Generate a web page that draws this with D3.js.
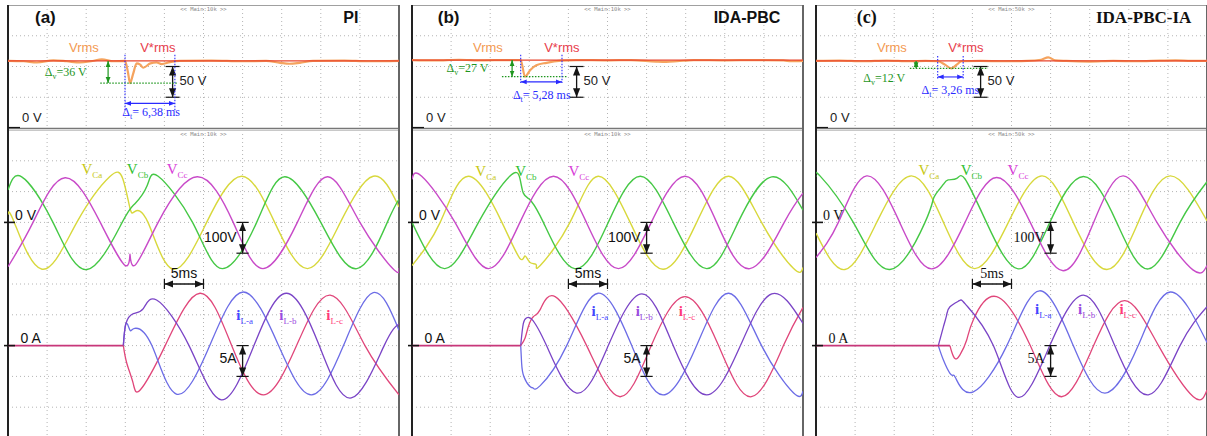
<!DOCTYPE html>
<html><head><meta charset="utf-8">
<script src="https://cdn.jsdelivr.net/npm/d3@7/dist/d3.min.js"></script>
<style>html,body{margin:0;padding:0;background:#fff}svg{display:block}</style>
</head><body>
<svg id="chart" width="1207" height="436"></svg>
<script>
// ================= DATA read from the three oscilloscope captures =================
// time in ms (10 divisions x 5 ms), voltages in V, currents in A
const panelTags   = ["(a)", "(b)", "(c)"];
const controllers = ["PI", "IDA-PBC", "IDA-PBC-IA"];
const scopeTags   = ["<< Main:10k >>", "<< Main:10k >>", "<< Main:50k >>"];
const vrmsRef     = [109, 110.5, 109];      // V*rms reference (V)
const deltaV      = [36, 27, 12];           // sag depth (V)
const deltaT      = [6.38, 5.28, 3.26];     // recovery time (ms)
const sagStart    = [14.96, 13.9, 15.56];   // start of the Δt window (ms)
const zeroLineEnd = [14.75, 13.9, 17.13];   // end of the flat 0 A trace (ms)

// RMS voltage traces [t ms, V]
const vrmsA = [[0,109],[2,108.5],[3.7,106.5],[5.8,110],[7.5,108.5],[9.2,106.5],[10.8,109],[12,111.5],[13.5,108.5],[14.96,109],[15.35,90],[15.6,73],[16,88],[16.45,105],[16.9,103],[17.3,98],[18.2,105],[19,106.5],[19.65,104],[20.7,107],[22,109],[26,109.5],[30,108.5],[33,109],[34.8,106],[36,104.5],[37.3,106],[39,109],[43,109.5],[46,108.5],[50,109]];
const vrmsB = [[0,110.5],[3,110],[6,111],[9,110],[12,110.5],[13.9,110.5],[14.45,83.5],[15.1,94],[15.9,102],[17.2,106],[19.1,109.5],[21,110.5],[25,110],[28,110.5],[31.2,108],[32.5,107.5],[33.9,108.5],[36,110.5],[40,110],[44,110.5],[47.5,110],[48.5,108.5],[50,109]];
const vrmsC = [[0,109],[3,109.5],[6,108.5],[9,109.5],[12,108.5],[14,109],[15.6,108.5],[16.5,103],[17.3,97],[18,103],[18.6,108.5],[21,109],[24,108.5],[27,109],[28.8,111],[29.7,115],[30.6,110],[32,109],[35,108],[38,109],[41,108.5],[44,109.5],[46,110],[48,109],[50,109]];

// capacitor voltages [t ms, V]
const vCaA = [[0,25],[0.8,0],[4.35,-152],[8.8,0],[13,148],[14.7,140],[15.6,46],[16.2,35],[17.9,0],[21.1,-152],[25.4,0],[29.9,150],[34.1,0],[38.3,-150],[42.5,0],[46.7,150],[50,50]];
const vCbA = [[0,105],[1.75,148],[5.75,0],[10.1,-153],[14.6,0],[16.2,60],[17.8,120],[19.2,150],[23.6,0],[27.4,-150],[31.8,0],[35.4,148],[40,0],[44.6,-150],[48.5,0],[50,75]];
const vCcA = [[0,-144],[3.2,0],[7.3,145],[11.8,0],[15,-140],[15.6,-103],[16.2,-140],[19.2,0],[24.2,148],[28.8,0],[32.6,-150],[37,0],[40.9,148],[45,0],[49.2,-150],[50,-148]];
const vCaB = [[0,-140],[3.6,0],[7.2,150],[11.5,0],[13.8,-117],[14.45,-109],[15.1,-130],[15.9,-138],[16.4,-140],[20.2,0],[23.8,150],[27.9,0],[32.1,-152],[36.4,0],[40.5,150],[44.7,0],[48.8,-150],[50,-146]];
const vCbB = [[0,0],[4.2,-150],[8.5,0],[12.5,150],[13.8,143],[14.24,95],[14.88,78],[15.3,67],[16.8,0],[20.8,-150],[25.1,0],[29.2,150],[33.4,0],[37.7,-150],[41.7,0],[46,148],[50,40]];
const vCcB = [[0,140],[1.24,150],[5.5,0],[9.76,-150],[13.8,0],[18.1,150],[22.3,0],[26.4,-150],[30.6,0],[34.9,150],[38.96,0],[43.2,-150],[47.6,0],[50,95]];
const vCaC = [[0,-35],[3.7,-153],[7.76,0],[12.2,151],[16.3,0],[20.3,-150],[24.6,0],[28.9,151],[32.9,0],[37.2,-153],[41.2,0],[45.3,151],[50,5]];
const vCbC = [[0,148],[0.51,151],[4.77,0],[9.46,-153],[13.94,0],[15,76],[15.65,103],[16.3,124],[16.9,138],[18,143],[19.06,141],[21.8,0],[25.9,-151],[29.9,0],[34.2,149],[38.45,0],[42.5,-151],[46.55,0],[50,132]];
const vCcC = [[0,-114],[2.86,0],[6.48,151],[10.7,0],[14.8,-151],[19.06,0],[23.1,146],[27.4,0],[31.6,-157],[35.5,0],[39.3,151],[43.6,0],[48.2,-154],[50,-140]];

// load currents [t ms, A]
const iLaA = [[14.75,0],[15.09,3.6],[15.6,2.5],[16.2,2.8],[18.4,0],[21.6,-7.9],[25.8,0],[30.1,8.7],[34.6,0],[38.8,-8],[42.9,0],[46.7,8.6],[50,2.5]];
const iLbA = [[14.75,0],[15.09,3.6],[16.03,5.2],[17.3,6],[19,7.4],[23.15,0],[27.3,-8.8],[31.45,0],[35.6,8.5],[39.8,0],[43.9,-8.5],[48.1,0],[50,3.5]];
const iLcA = [[14.75,0],[15.2,-2.9],[16,-6.1],[16.9,-7.2],[20.1,0],[24.55,8.5],[28.6,0],[32.65,-8],[36.9,0],[41.2,8.2],[45.65,0],[50,-8]];
const iLaB = [[13.9,0],[14.02,-2.9],[14.3,-5],[15.09,-6.65],[15.51,-6.9],[16.4,-6.5],[19.78,0],[23.8,8.5],[28.1,0],[32.1,-8],[36.4,0],[40.5,8.5],[44.7,0],[48.8,-7.7],[50,-7.4]];
const iLbB = [[13.9,0],[14.24,3.6],[14.66,4.5],[15.3,4.3],[17.2,0],[21.05,-7.7],[25.1,0],[29.4,8.4],[33.4,0],[37.7,-8],[42,0],[46,8.4],[50,3.6]];
const iLcB = [[13.9,0],[14.45,1.2],[14.88,3.1],[15.51,4.7],[16.37,5.8],[18.3,7.95],[22.33,0],[26.6,-8.3],[30.6,0],[34.9,7.95],[39.2,0],[43.4,-8.3],[47.5,0],[50,6.2]];
const iLaC = [[15.64,0],[16.28,-2.3],[17.13,-4.5],[17.56,-4.8],[17.99,-5.6],[20.12,-7.5],[24.4,0],[28.6,8.9],[32.9,0],[36.95,-7.7],[41.2,0],[45.3,8.7],[50,0.5]];
const iLbC = [[15.64,0],[16.28,3],[16.71,5],[17.13,6.3],[18.33,7.3],[19.27,6.5],[22.68,0],[25.9,-8.4],[29.9,0],[34.2,8.2],[38.2,0],[42.5,-8],[46.55,0],[50,6.3]];
const iLcC = [[17.13,0],[17.35,-1],[17.77,-2.1],[18.41,-1.5],[19.27,0.9],[20.12,4.2],[23.1,7.95],[27.4,0],[31.4,-8.3],[35.5,0],[39.5,7.3],[43.8,0],[48.25,-8.3],[50,-7.2]];

// scale-bar values
const scaleTop = 50;   // V per division (RMS screen)
const scaleV   = 100;  // V per division
const scaleI   = 5;    // A per division
const scaleT   = 5;    // ms per division

// ================= LAYOUT (positions in data units, styles) =================
const L = {panelX:[8,412,816], w:391, top:5, mid:128, botTop:130, bot:438};
const tagT = [3.45, 3.3, 5.2], ctrlT = [44.8, 47.1, 48.0];
const dvLabel = [[4.7,84.5],[4.4,91],[6.05,75]];
const dvLine = [[11.8,21.7],[11.5,19.8],[12.0,22.0]];
const dtVert = [[119,29],[119,73],[117,78]];
const dtArrowV = [40, 75, 83];
const dtLabel = [[14.6,19.5],[12.9,47],[13.5,55]];
const vLabelT = [[9.4,15.2,20.3],[8.1,13.2,20.0],[13.1,18.5,24.5]];
const vLabelV = [156, 150, 154];
const iLabelT = [[29.2,34.7,40.7],[22.96,28.6,34.1],[28.0,33.5,38.8]];
const iLabelI = [4.2, 4.8, 5.1];

const SANS = "'Liberation Sans', Arial, Helvetica, sans-serif";
const SERIF = "'Liberation Serif', 'Times New Roman', serif";
const scaleFont = [SANS, SANS, SERIF];
const C = {vrms:"#f5a35e", vref:"#e8452c", vrmsTxt:"#f39a52", vrefTxt:"#e8404c",
  va:"#d8d83c", vb:"#45c845", vc:"#c84ac8", vaTxt:"#c8c814", vbTxt:"#30c030", vcTxt:"#d83cd8",
  ia:"#6c6ce6", ib:"#7a44c6", ic:"#e0467a", iaTxt:"#4545ff", ibTxt:"#9b4be0", icTxt:"#ff3a78",
  zero:"#c8377a", green:"#1e961e", blue:"#2a2aff", grid:"#b4b4b4", ink:"#151515"};

const panels = [
  {vrms:vrmsA, va:vCaA, vb:vCbA, vc:vCcA, ia:iLaA, ib:iLbA, ic:iLcA},
  {vrms:vrmsB, va:vCaB, vb:vCbB, vc:vCcB, ia:iLaB, ib:iLbB, ic:iLcB},
  {vrms:vrmsC, va:vCaC, vb:vCbC, vc:vCcC, ia:iLaC, ib:iLbC, ic:iLcC}
];

const H = 436;
const svg = d3.select("#chart");
const defs = svg.append("defs");
[["hk",C.ink,9],["hg",C.green,6],["hb",C.blue,6]].forEach(([id,col,s])=>{
  defs.append("marker").attr("id",id).attr("viewBox","0 0 10 10").attr("refX",10).attr("refY",5)
    .attr("markerWidth",s).attr("markerHeight",s).attr("markerUnits","userSpaceOnUse")
    .attr("orient","auto-start-reverse")
    .append("path").attr("d","M0,1L10,5L0,9Z").attr("fill",col);
});

function subText(g, X, Y, main, sub, rest, o){
  const t = g.append("text").attr("x",X).attr("y",Y).attr("font-family",o.font)
    .attr("font-size",o.size).attr("fill",o.color);
  t.append("tspan").attr("font-weight",o.weight||"normal").text(main);
  t.append("tspan").attr("font-size",o.subSize).attr("dy",o.subDy).text(sub);
  if (rest) t.append("tspan").attr("dy",-o.subDy).attr("font-size",o.size).text(rest);
  return t;
}
function vArrow(g, X, y1, y2, cap){
  g.append("line").attr("x1",X).attr("x2",X).attr("y1",y1).attr("y2",y2)
    .attr("stroke",C.ink).attr("stroke-width",1.3)
    .attr("marker-start","url(#hk)").attr("marker-end","url(#hk)");
  [y1,y2].forEach(y=>g.append("line").attr("x1",X-cap).attr("x2",X+cap).attr("y1",y).attr("y2",y)
    .attr("stroke",C.ink).attr("stroke-width",1.2));
}

panels.forEach((P,i)=>{
  const x0 = L.panelX[i], x1 = x0 + L.w;
  const x  = d3.scaleLinear().domain([0,50]).range([x0,x1]);
  const yT = d3.scaleLinear().domain([0,4*scaleTop]).range([L.mid,L.top]);
  const yV = d3.scaleLinear().domain([-7*scaleV,3*scaleV]).range([L.bot,L.botTop]);
  const yI = d3.scaleLinear().domain([-3*scaleI,7*scaleI]).range([L.bot,L.botTop]);
  const g = svg.append("g");
  defs.append("clipPath").attr("id","cp"+i).append("rect")
    .attr("x",x0).attr("y",L.top).attr("width",L.w).attr("height",L.bot-L.top);

  // grid
  const grid = g.append("g").attr("stroke",C.grid).attr("stroke-width",1).attr("stroke-dasharray","1,3");
  const tt = d3.range(scaleT,50,scaleT);
  grid.selectAll("line.a").data(tt).join("line").attr("class","a")
    .attr("x1",d=>x(d)).attr("x2",d=>x(d)).attr("y1",L.top).attr("y2",L.mid);
  grid.selectAll("line.b").data(tt).join("line").attr("class","b")
    .attr("x1",d=>x(d)).attr("x2",d=>x(d)).attr("y1",L.botTop).attr("y2",L.bot);
  grid.selectAll("line.c").data(d3.range(1,4).map(k=>k*scaleTop)).join("line").attr("class","c")
    .attr("x1",x0).attr("x2",x1).attr("y1",d=>yT(d)).attr("y2",d=>yT(d));
  grid.selectAll("line.d").data(d3.range(-6,3).map(k=>k*scaleV)).join("line").attr("class","d")
    .attr("x1",x0).attr("x2",x1).attr("y1",d=>yV(d)).attr("y2",d=>yV(d));

  // tiny scope header texts
  [L.top+6, L.botTop+6].forEach(y=>g.append("text").attr("x",x(25)).attr("y",y)
    .attr("text-anchor","middle").attr("font-family","'DejaVu Sans Mono', monospace")
    .attr("font-size",5.5).attr("fill","#8a8a8a").text(scopeTags[i]));

  // frames
  g.append("line").attr("x1",x0).attr("x2",x1).attr("y1",L.top+0.5).attr("y2",L.top+0.5).attr("stroke","#a0a0a0");
  g.append("line").attr("x1",x0).attr("x2",x1).attr("y1",L.mid+0.5).attr("y2",L.mid+0.5).attr("stroke","#777").attr("stroke-width",1.5);
  g.append("line").attr("x1",x0).attr("x2",x1).attr("y1",L.botTop+0.5).attr("y2",L.botTop+0.5).attr("stroke","#c8c8c8");
  g.append("line").attr("x1",x0).attr("x2",x0).attr("y1",L.top).attr("y2",H).attr("stroke","#222").attr("stroke-width",2);
  g.append("line").attr("x1",x1).attr("x2",x1).attr("y1",L.top).attr("y2",H).attr("stroke","#666").attr("stroke-width",2);

  // traces
  const tr = g.append("g").attr("clip-path",`url(#cp${i})`).attr("fill","none");
  const lnT = d3.line().x(d=>x(d[0])).y(d=>yT(d[1])).curve(d3.curveMonotoneX);
  tr.append("path").datum(P.vrms).attr("d",lnT).attr("stroke",C.vrms).attr("stroke-width",2.2);
  tr.append("path").datum([[0,vrmsRef[i]],[50,vrmsRef[i]]]).attr("d",lnT).attr("stroke",C.vref).attr("stroke-width",1.2);

  const lnV = d3.line().x(d=>x(d[0])).y(d=>yV(d[1])).curve(d3.curveNatural);
  [[P.va,C.va],[P.vb,C.vb],[P.vc,C.vc]].forEach(([d,c])=>
    tr.append("path").datum(d).attr("d",lnV).attr("stroke",c).attr("stroke-width",1.4));

  const lnI = d3.line().x(d=>x(d[0])).y(d=>yI(d[1])).curve(d3.curveNatural);
  [[P.ic,C.ic],[P.ia,C.ia],[P.ib,C.ib]].forEach(([d,c])=>
    tr.append("path").datum(d).attr("d",lnI).attr("stroke",c).attr("stroke-width",1.3));
  tr.append("path").datum([[0,0],[zeroLineEnd[i],0]]).attr("d",lnI).attr("stroke",C.zero).attr("stroke-width",1.7);

  // ---------- top annotations ----------
  const a = g.append("g");
  a.append("text").attr("x",x(tagT[i])).attr("y",23).attr("font-family",scaleFont[i])
    .attr("font-weight","bold").attr("font-size",i===2?18:17).attr("fill","#111").text(panelTags[i]);
  a.append("text").attr("x",x(ctrlT[i])).attr("y",23).attr("text-anchor","end").attr("font-family",scaleFont[i])
    .attr("font-weight","bold").attr("font-size",i===2?17:16).attr("fill","#111").text(controllers[i]);
  a.append("text").attr("x",x(7.8)).attr("y",yT(124)).attr("font-family",SANS).attr("font-size",13)
    .attr("fill",C.vrmsTxt).text("Vrms");
  a.append("text").attr("x",x(16.9)).attr("y",yT(124)).attr("font-family",SANS).attr("font-size",13)
    .attr("fill",C.vrefTxt).text("V*rms");
  a.append("text").attr("x",x(1.8)).attr("y",yT(10)).attr("font-family",SANS).attr("font-size",13)
    .attr("fill","#222").text("0 V");
  a.append("line").attr("x1",x0).attr("x2",x0+12).attr("y1",L.mid-0.5).attr("y2",L.mid-0.5).attr("stroke",C.ink).attr("stroke-width",1.2);

  // 50 V scale bar
  vArrow(a, x(21.05), yT(2*scaleTop), yT(scaleTop), 7);
  a.append("text").attr("x",x(21.05)+7).attr("y",yT(70)).attr("font-family",SANS).attr("font-size",13)
    .attr("fill","#222").text(scaleTop+" V");

  // Δv
  const vLow = vrmsRef[i]-deltaV[i];
  a.append("line").attr("x1",x(dvLine[i][0])).attr("x2",x(dvLine[i][1])).attr("y1",yT(vLow)).attr("y2",yT(vLow))
    .attr("stroke",C.green).attr("stroke-width",1.2).attr("stroke-dasharray","1.5,1.5");
  a.append("line").attr("x1",x(12.8)).attr("x2",x(12.8)).attr("y1",yT(vrmsRef[i])).attr("y2",yT(vLow))
    .attr("stroke",C.green).attr("stroke-width",1.2)
    .attr("marker-start","url(#hg)").attr("marker-end","url(#hg)");
  subText(a, x(dvLabel[i][0]), yT(dvLabel[i][1]), "Δ", "v", "=" + deltaV[i] + " V",
    {font:SERIF, size:12, subSize:8, subDy:3, color:C.green});

  // Δt
  const tEnd = sagStart[i]+deltaT[i];
  [sagStart[i], tEnd].forEach(t=>a.append("line").attr("x1",x(t)).attr("x2",x(t))
    .attr("y1",yT(dtVert[i][0])).attr("y2",yT(dtVert[i][1]))
    .attr("stroke",C.blue).attr("stroke-width",1.1).attr("stroke-dasharray","1.5,1.5"));
  a.append("line").attr("x1",x(sagStart[i])).attr("x2",x(tEnd)).attr("y1",yT(dtArrowV[i])).attr("y2",yT(dtArrowV[i]))
    .attr("stroke",C.blue).attr("stroke-width",1.1)
    .attr("marker-start","url(#hb)").attr("marker-end","url(#hb)");
  subText(a, x(dtLabel[i][0]), yT(dtLabel[i][1]), "Δ", "t", "= " + deltaT[i].toFixed(2).replace(".",",") + " ms",
    {font:SERIF, size:12, subSize:8, subDy:3, color:C.blue});

  // ---------- voltage screen annotations ----------
  a.append("line").attr("x1",x0-4).attr("x2",x0+7).attr("y1",yV(0)).attr("y2",yV(0)).attr("stroke",C.ink).attr("stroke-width",1.6);
  a.append("text").attr("x",x(0.9)).attr("y",yV(8)).attr("font-family",scaleFont[i]).attr("font-size",14)
    .attr("fill","#111").text("0 V");
  [["Ca",C.vaTxt],["Cb",C.vbTxt],["Cc",C.vcTxt]].forEach(([s,c],k)=>
    subText(a, x(vLabelT[i][k]), yV(vLabelV[i]), "V", s, null,
      {font:SERIF, size:15, subSize:9, subDy:4, color:c}));
  vArrow(a, x(30), yV(0), yV(-scaleV), 6);
  a.append("text").attr("x",x(30)-6).attr("y",yV(-63)).attr("text-anchor","end")
    .attr("font-family",scaleFont[i]).attr("font-size",14).attr("fill","#111").text(scaleV+"V");
  // 5 ms bar
  const yb = yV(-2*scaleV);
  a.append("line").attr("x1",x(20)).attr("x2",x(20+scaleT)).attr("y1",yb).attr("y2",yb)
    .attr("stroke",C.ink).attr("stroke-width",1.3)
    .attr("marker-start","url(#hk)").attr("marker-end","url(#hk)");
  [20, 20+scaleT].forEach(t=>a.append("line").attr("x1",x(t)).attr("x2",x(t)).attr("y1",yb-5).attr("y2",yb+5)
    .attr("stroke",C.ink).attr("stroke-width",1.2));
  a.append("text").attr("x",x(22.5)).attr("y",yV(-181)).attr("text-anchor","middle")
    .attr("font-family",scaleFont[i]).attr("font-size",14).attr("fill","#111").text(scaleT+"ms");

  // ---------- current screen annotations ----------
  a.append("line").attr("x1",x0-4).attr("x2",x0+7).attr("y1",yI(0)).attr("y2",yI(0)).attr("stroke",C.ink).attr("stroke-width",1.6);
  a.append("text").attr("x",x(1.6)).attr("y",yI(0.4)).attr("font-family",scaleFont[i]).attr("font-size",14)
    .attr("fill","#111").text("0 A");
  [["L-a",C.iaTxt],["L-b",C.ibTxt],["L-c",C.icTxt]].forEach(([s,c],k)=>
    subText(a, x(iLabelT[i][k]), yI(iLabelI[i]), "i", s, null,
      {font:SERIF, size:15, weight:"bold", subSize:9, subDy:4, color:c}));
  vArrow(a, x(30), yI(0), yI(-scaleI), 6);
  a.append("text").attr("x",x(30)-6).attr("y",yI(-2.8)).attr("text-anchor","end")
    .attr("font-family",scaleFont[i]).attr("font-size",14).attr("fill","#111").text(scaleI+"A");
});
</script>
</body></html>
